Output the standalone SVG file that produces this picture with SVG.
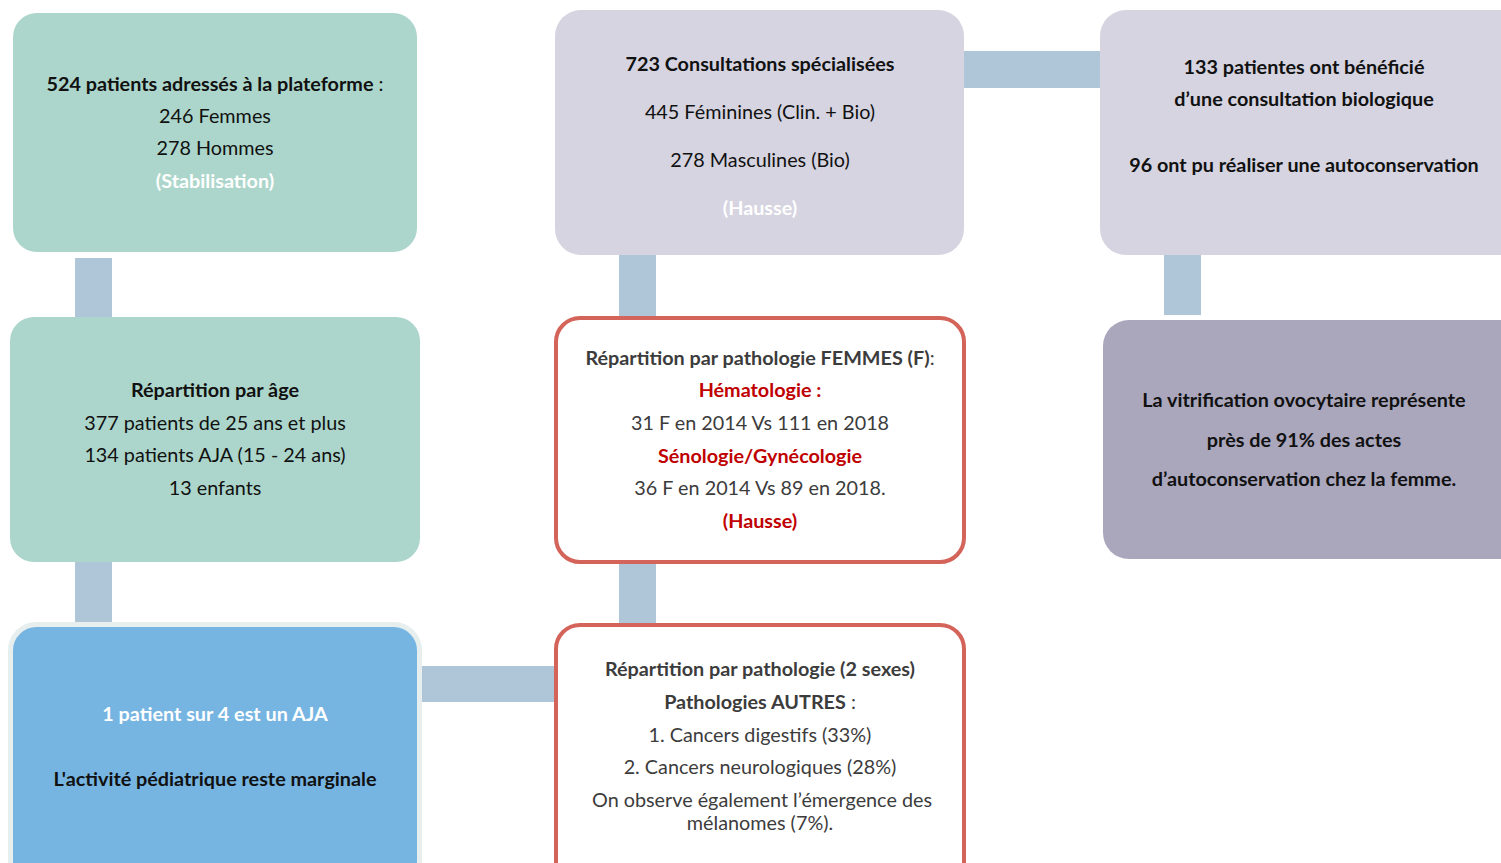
<svg xmlns="http://www.w3.org/2000/svg" width="1501" height="863" viewBox="0 0 1501 863">
<style>
text{font-family:Lato,"Open Sans","Liberation Sans",sans-serif;font-size:19.8px;text-anchor:middle;fill:#111}
.b{font-weight:bold}
.w{fill:#fff;font-weight:bold}
.g{fill:#3c3c3c}
.r{fill:#c00000;font-weight:bold}
.teal{fill:#acd6cb}
.lav{fill:#d5d4e0}
.red{fill:#fff;stroke:#d4635a;stroke-width:4}
.conn{fill:#afc6d9}
</style>
<rect width="1501" height="863" fill="#fff"/>
<g id="connectors">
<rect class="conn" x="75" y="258" width="37" height="62"/>
<rect class="conn" x="75" y="560" width="37" height="64"/>
<rect class="conn" x="418" y="666" width="138" height="36"/>
<rect class="conn" x="962" y="51" width="140" height="37"/>
<rect class="conn" x="619" y="253" width="37" height="66"/>
<rect class="conn" x="619" y="562" width="37" height="62"/>
<rect class="conn" x="1164" y="253" width="37" height="62"/>
</g>
<g id="n1">
<rect class="teal" x="13" y="13" width="404" height="239" rx="24"/>
<text x="215" y="91"><tspan class="b">524 patients adressés à la plateforme</tspan> :</text>
<text x="215" y="123">246 Femmes</text>
<text x="215" y="155">278 Hommes</text>
<text x="215" y="188" class="w">(Stabilisation)</text>
</g>
<g id="n2">
<rect class="teal" x="10" y="317" width="410" height="245" rx="24"/>
<text x="215" y="397" class="b">Répartition par âge</text>
<text x="215" y="430">377 patients de 25 ans et plus</text>
<text x="215" y="462">134 patients AJA (15 - 24 ans)</text>
<text x="215" y="495">13 enfants</text>
</g>
<g id="n3">
<rect x="10.5" y="624.5" width="409" height="262" rx="26" fill="#76b5e2" stroke="#e6eeee" stroke-width="5"/>
<text x="215" y="721" class="w">1 patient sur 4 est un AJA</text>
<text x="215" y="786" class="b">L'activité pédiatrique reste marginale</text>
</g>
<g id="n4">
<rect class="lav" x="555" y="10" width="409" height="245" rx="26"/>
<text x="760" y="71" class="b">723 Consultations spécialisées</text>
<text x="760" y="119">445 Féminines (Clin. + Bio)</text>
<text x="760" y="167">278 Masculines (Bio)</text>
<text x="760" y="215" class="w">(Hausse)</text>
</g>
<g id="n5">
<rect class="lav" x="1100" y="10" width="430" height="245" rx="26"/>
<text x="1304" y="74" class="b">133 patientes ont bénéficié</text>
<text x="1304" y="106" class="b">d’une consultation biologique</text>
<text x="1304" y="172" class="b">96 ont pu réaliser une autoconservation</text>
</g>
<g id="n6">
<rect class="red" x="556" y="318" width="408" height="244" rx="24"/>
<text x="760" y="365" class="g"><tspan class="b">Répartition par pathologie FEMMES (F)</tspan>:</text>
<text x="760" y="397" class="r">Hématologie :</text>
<text x="760" y="430" class="g">31 F en 2014 Vs 111 en 2018</text>
<text x="760" y="463" class="r">Sénologie/Gynécologie</text>
<text x="760" y="495" class="g">36 F en 2014 Vs 89 en 2018.</text>
<text x="760" y="528" class="r">(Hausse)</text>
</g>
<g id="n7">
<rect class="red" x="556" y="625" width="408" height="262" rx="24"/>
<text x="760" y="676" class="g b">Répartition par pathologie (2 sexes)</text>
<text x="760" y="709" class="g"><tspan class="b">Pathologies AUTRES</tspan> :</text>
<text x="760" y="742" class="g">1. Cancers digestifs (33%)</text>
<text x="760" y="774" class="g">2. Cancers neurologiques (28%)</text>
<text x="762" y="807" class="g">On observe également l’émergence des</text>
<text x="760" y="830" class="g">mélanomes (7%).</text>
</g>
<g id="n8">
<rect x="1103" y="320" width="430" height="239" rx="26" fill="#aaa7bd"/>
<text x="1304" y="407" class="b">La vitrification ovocytaire représente</text>
<text x="1304" y="447" class="b">près de 91% des actes</text>
<text x="1304" y="486" class="b">d’autoconservation chez la femme.</text>
</g>
</svg>
